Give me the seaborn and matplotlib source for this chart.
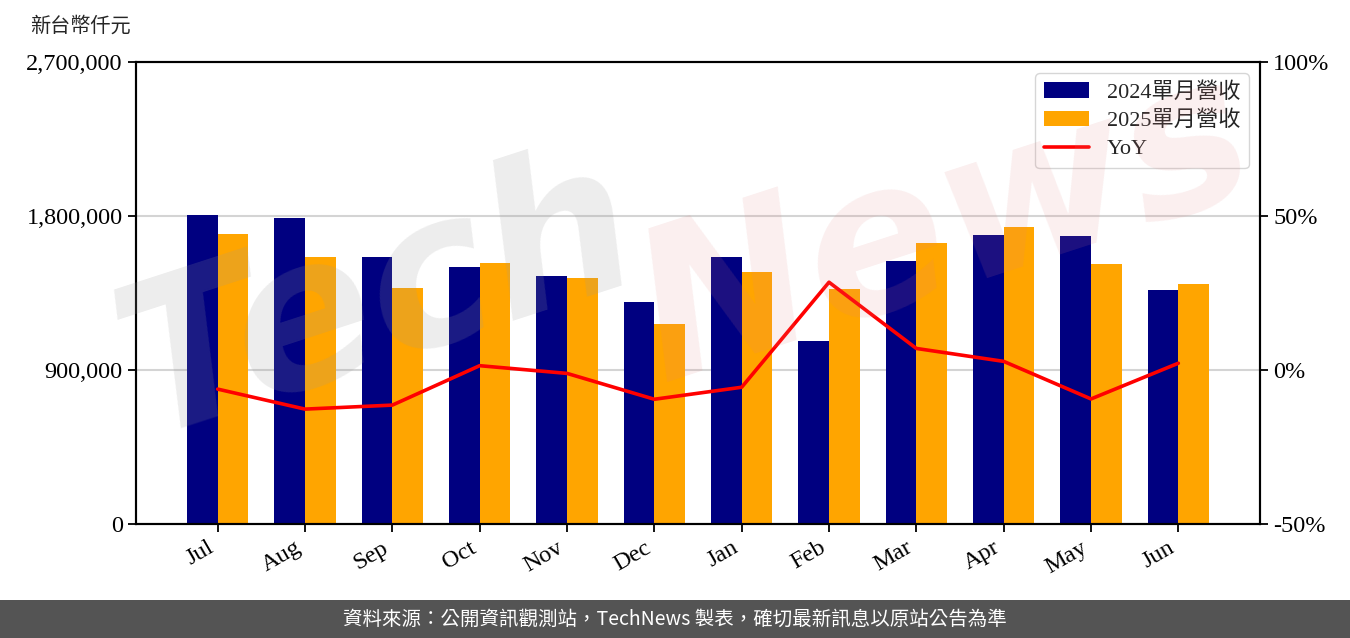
import matplotlib
matplotlib.use('Agg')
import matplotlib.pyplot as plt
import seaborn as sns
import pandas as pd
import numpy as np
from matplotlib.ticker import FuncFormatter
from matplotlib.lines import Line2D
from matplotlib.patches import Patch, Rectangle

# ---- data ----
months = ['Jul', 'Aug', 'Sep', 'Oct', 'Nov', 'Dec', 'Jan', 'Feb', 'Mar', 'Apr', 'May', 'Jun']
rev_2024 = [1805800, 1788300, 1560400, 1501900, 1449300, 1297400,
            1560400, 1069500, 1537000, 1688900, 1683100, 1367500]
rev_2025 = [1694800, 1560400, 1379200, 1527000, 1437600, 1168800,
            1472700, 1373300, 1642200, 1735700, 1519400, 1402600]
yoy = [-6.2, -12.7, -11.4, 1.4, -1.1, -9.5, -5.6, 28.5, 7.0, 2.8, -9.4, 2.2]
series_labels = ['2024單月營收', '2025單月營收']
yoy_label = 'YoY'
left_ticks = [0, 900000, 1800000, 2700000]
right_ticks = [-50, 0, 50, 100]
unit_label = '新台幣仟元'
footer_text = '資料來源：公開資訊觀測站，TechNews 製表，確切最新訊息以原站公告為準'

# ---- style ----
sns.set_theme(style='white')
plt.rcParams['font.family'] = ['Liberation Serif', 'Noto Sans CJK TC']
plt.rcParams['axes.unicode_minus'] = False

W, H = 1350, 638
fig = plt.figure(figsize=(W / 100, H / 100), dpi=100)
ax = fig.add_axes([136 / W, 1 - 524 / H, (1260 - 136) / W, (524 - 62) / H])

df = pd.DataFrame({
    'month': months * 2,
    'value': rev_2024 + rev_2025,
    'series': [series_labels[0]] * len(months) + [series_labels[1]] * len(months),
})
colors = ['#000080', '#FFA500']
sns.barplot(data=df, x='month', y='value', hue='series', order=months,
            hue_order=series_labels, palette=colors, width=0.7,
            saturation=1, ax=ax, legend=False, zorder=2,
            linewidth=0, edgecolor='none')

ax.set_xlim(-0.935, 11.935)
ax.set_ylim(0, 2700000)
ax.set_yticks(left_ticks)
ax.yaxis.set_major_formatter(FuncFormatter(lambda v, p: f'{int(v):,}'))
ax.set_xticks(range(len(months)))
ax.set_xticklabels(months, rotation=30, ha='right')
ax.set_xlabel('')
ax.set_ylabel('')
ax.yaxis.grid(True, color='#d4d4d4', lw=1.5)
ax.set_axisbelow(True)
ax.tick_params(axis='both', which='both', direction='out', length=6, width=1.3,
               labelsize=17.5, colors='black', bottom=True, left=True)
for s in ax.spines.values():
    s.set_color('black')
    s.set_linewidth(1.5)

ax2 = ax.twinx()
sns.lineplot(x=np.arange(len(months)), y=yoy, ax=ax2, color='#ff0000', lw=2.6, zorder=3)
ax2.set_ylim(-50, 100)
ax2.set_yticks(right_ticks)
ax2.yaxis.set_major_formatter(FuncFormatter(lambda v, p: f'{int(v)}%'))
ax2.tick_params(axis='y', direction='out', length=6, width=1.3, labelsize=17.5, colors='black', right=True)
ax2.set_ylabel('')
for s in ax2.spines.values():
    s.set_color('black')
    s.set_linewidth(1.5)
ax2.set_xlim(-0.935, 11.935)

# watermark
fig.text(0.28, 0.53, 'Tech', fontsize=150, family='DejaVu Sans', fontweight='bold',
         style='italic', color='#9a9a9a', alpha=0.18, rotation=18, ha='center', va='center', zorder=0)
fig.text(0.70, 0.64, 'News', fontsize=150, family='DejaVu Sans', fontweight='bold',
         style='italic', color='#e08080', alpha=0.13, rotation=18, ha='center', va='center', zorder=0)

handles = [Patch(facecolor=colors[0], edgecolor='none', label=series_labels[0]),
           Patch(facecolor=colors[1], edgecolor='none', label=series_labels[1]),
           Line2D([0], [0], color='#ff0000', lw=2.6, label=yoy_label)]
leg = ax2.legend(handles=handles, loc='upper right', fontsize=16, frameon=True,
                 fancybox=True, edgecolor='#cccccc', framealpha=0.8,
                 borderaxespad=0.5, labelspacing=0.35)

fig.text(30 / W, 1 - 27 / H, unit_label, fontsize=14.5, ha='left', va='center')

# footer band
fig.patches.append(Rectangle((0, 0), 1, 38 / H, transform=fig.transFigure,
                             facecolor='#545454', edgecolor='none', zorder=0))
fig.text(0.5, 19 / H, footer_text, color='white', fontsize=14, ha='center', va='center',
         family=['Noto Sans CJK TC', 'DejaVu Sans'])

fig.savefig('out.png', dpi=100)
